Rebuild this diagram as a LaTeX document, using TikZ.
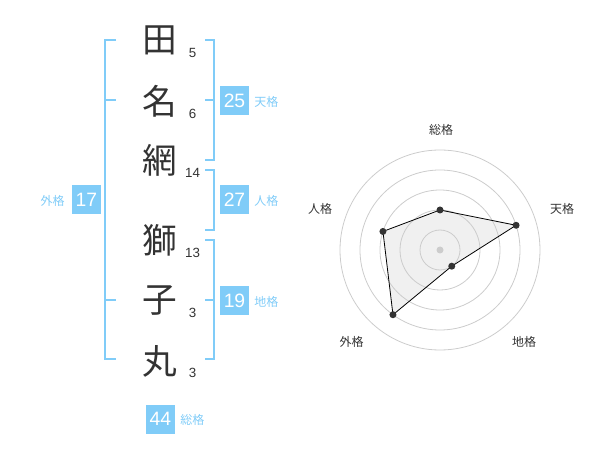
\documentclass[tikz,border=0pt]{standalone}
\usepackage{fontspec}
\setmainfont{Liberation Sans}
\newfontfamily\jp{Noto Sans CJK JP}

\definecolor{kakublue}{RGB}{128,204,248}
\definecolor{inkgray}{RGB}{51,51,51}
\definecolor{ringgray}{RGB}{204,204,204}

\begin{document}
\begin{tikzpicture}[x=0.75pt, y=-0.75pt,
  kanji/.style={font=\jp\fontsize{26}{26}\selectfont, text=inkgray, inner sep=0pt},
  strokes/.style={font=\fontsize{10}{10}\selectfont, text=inkgray, inner sep=0pt},
  kakubox/.style={fill=kakublue, text=white, minimum size=21.75pt, inner sep=0pt,
    font=\fontsize{14.5}{14.5}\selectfont},
  kakuname/.style={font=\jp\fontsize{9}{9}\selectfont, text=kakublue, inner sep=0pt},
  bracket/.style={draw=kakublue, line width=1.5pt},
  axisname/.style={font=\jp\fontsize{9}{9}\selectfont, text=inkgray, inner sep=0pt}]

\useasboundingbox (0,0) rectangle (600,470);

% Name characters with their stroke counts
\foreach \ch/\n/\y [count=\i] in {田/5/40.5, 名/6/101.5, 網/14/160.5, 獅/13/240.5, 子/3/301, 丸/3/361} {
  \node[kanji] (k\i) at (160,\y) {\ch};
  \node[strokes] (s\i) at (192.5,\y+12) {\n};
}

% Brackets
\draw[bracket] (116,40) -- (105,40) -- (105,359) -- (116,359);
\draw[bracket] (105,100) -- (116,100);
\draw[bracket] (105,300) -- (116,300);

\draw[bracket] (205,40) -- (214,40) -- (214,160) -- (205,160);
\draw[bracket] (205,100) -- (214,100);

\draw[bracket] (205,170) -- (214,170) -- (214,230) -- (205,230);

\draw[bracket] (205,240) -- (214,240) -- (214,359) -- (205,359);
\draw[bracket] (205,300) -- (214,300);

% Values
\node[kakubox] (ten) at (234.5,100.5) {25};
\node[kakuname, anchor=west] (tenname) at (254,101.5) {天格};
\node[kakubox] (jin) at (234.5,200) {27};
\node[kakuname, anchor=west] (jinname) at (254,201) {人格};
\node[kakubox] (chi) at (234.5,300.5) {19};
\node[kakuname, anchor=west] (chiname) at (254,301.5) {地格};
\node[kakubox] (gai) at (86.5,200) {17};
\node[kakuname, anchor=east] (gainame) at (65,201) {外格};
\node[kakubox] (sou) at (160.5,419) {44};
\node[kakuname, anchor=west] (souname) at (180,420) {総格};

% Radar chart
\begin{scope}[shift={(440,250)}, yscale=-1]
  \coordinate (rsou) at (90:40);
  \coordinate (rten) at (18:80);
  \coordinate (rchi) at (-54:20);
  \coordinate (rgai) at (-126:80);
  \coordinate (rjin) at (162:60);

  \fill[black!6] (rsou) -- (rten) -- (rchi) -- (rgai) -- (rjin) -- cycle;
  \foreach \r in {20,40,...,100}
    \draw[ringgray, line width=0.6pt] (0,0) circle[radius=\r];
  \fill[ringgray] (0,0) circle[radius=3.5];
  \draw[black, line width=0.6pt] (rsou) -- (rten) -- (rchi) -- (rgai) -- (rjin) -- cycle;
  \foreach \p in {rsou,rten,rchi,rgai,rjin}
    \fill[inkgray] (\p) circle[radius=3.5];
\end{scope}

\node[axisname] (asou) at (441,130) {総格};
\node[axisname] (aten) at (562,208.5) {天格};
\node[axisname] (achi) at (524,342) {地格};
\node[axisname] (agai) at (351.5,342) {外格};
\node[axisname] (ajin) at (320,208.5) {人格};

\end{tikzpicture}
\end{document}
